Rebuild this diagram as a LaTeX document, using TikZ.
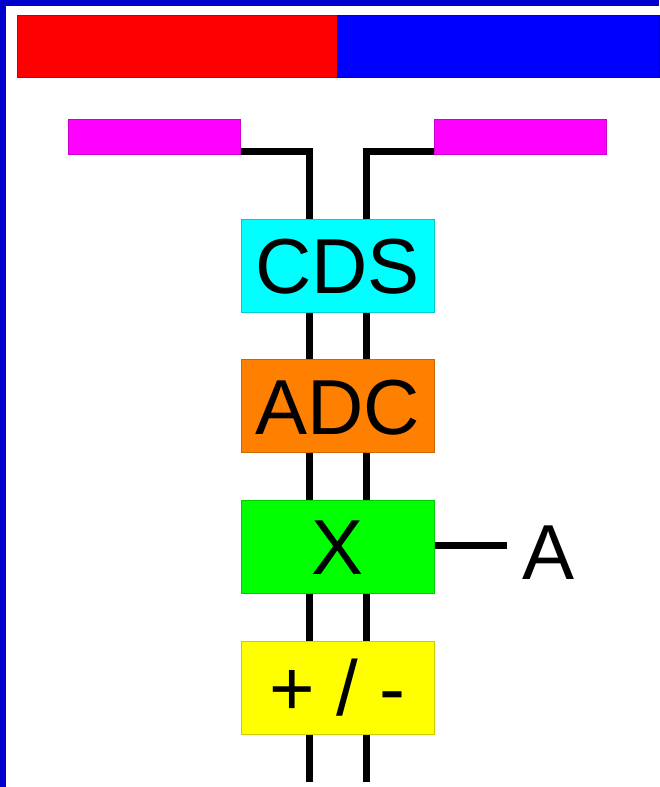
\documentclass[tikz,border=0pt]{standalone}
\usepackage{fontspec}
\setmainfont{Liberation Sans}
\usetikzlibrary{calc}
\definecolor{frameblue}{RGB}{0,0,204}
\definecolor{cmag}{RGB}{255,0,255}
\definecolor{ccyan}{RGB}{0,255,255}
\definecolor{corange}{RGB}{255,128,0}
\definecolor{cgreen}{RGB}{0,255,0}
\definecolor{cyellow}{RGB}{255,255,0}
\definecolor{cred}{RGB}{255,0,0}
\definecolor{cblue}{RGB}{0,0,255}
\tikzset{
  blk/.style={draw=#1!80!black, line width=1pt, fill=#1, inner sep=0pt,
    minimum width=193pt, minimum height=93pt, font=\fontsize{78}{78}\selectfont,
    text height=56pt, text depth=0pt},
  pad/.style={draw=cmag!80!black, line width=1pt, fill=cmag, inner sep=0pt,
    minimum width=172pt, minimum height=35pt},
  bar/.style={draw=#1!80!black, line width=1pt, fill=#1, inner sep=0pt,
    minimum height=62pt},
  wire/.style={line width=7pt, black},
  lbl/.style={inner sep=0pt, font=\fontsize{78}{78}\selectfont, text height=56pt, text depth=0pt}
}
\begin{document}
\begin{tikzpicture}[x=1pt,y=-1pt]
\useasboundingbox (0,0) rectangle (659,787);
\fill[white] (0,0) rectangle (659,787);
% frame
\fill[frameblue] (0,0) rectangle (659,6);
\fill[frameblue] (0,0) rectangle (6,787);
% top bars
\node[bar=cred, minimum width=320pt] (red) at (177,46) {};
\node[bar=cblue, minimum width=322pt] (blue) at (498,46) {};
% pads
\node[pad] (ml) at (154,136.5) {};
\node[pad] (mr) at (520,136.5) {};
% blocks
\node[blk=ccyan] (cds) at (337.5,265.5) {CDS};
\node[blk=corange] (adc) at (337.5,406) {ADC};
\node[blk=cgreen] (mul) at (337.5,546.5) {X};
\node[blk=cyellow] (add) at (337.5,687.5) {+ / -};
\node[lbl, anchor=center] (A) at (548.5,551) {A};
% wire x positions
\coordinate (wl) at (309,0);
\coordinate (wr) at (366,0);
\coordinate (endl) at (309,782);
\coordinate (endr) at (366,782);
% top wires
\draw[wire] ($(ml.south east)+(0,-3)$) -| (cds.north -| wl);
\draw[wire] ($(mr.south west)+(0,-3)$) -| (cds.north -| wr);
% between blocks
\draw[wire] (cds.south -| wl) -- (adc.north -| wl);
\draw[wire] (cds.south -| wr) -- (adc.north -| wr);
\draw[wire] (adc.south -| wl) -- (mul.north -| wl);
\draw[wire] (adc.south -| wr) -- (mul.north -| wr);
\draw[wire] (mul.south -| wl) -- (add.north -| wl);
\draw[wire] (mul.south -| wr) -- (add.north -| wr);
\draw[wire] (add.south -| wl) -- (endl);
\draw[wire] (add.south -| wr) -- (endr);
% A connector
\draw[wire] ($(mul.east)+(0,-1.5)$) -- ++(72,0) coordinate (aend);
\end{tikzpicture}
\end{document}
